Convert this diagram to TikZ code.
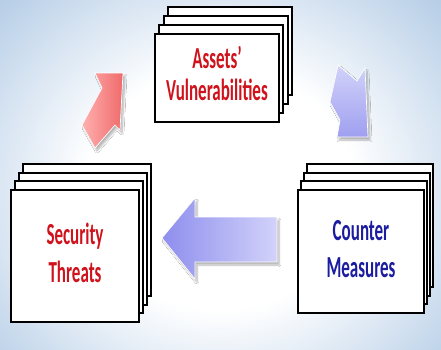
\documentclass[tikz,border=0pt]{standalone}
\usepackage{fontspec}
\setmainfont{Carlito}
\usetikzlibrary{calc,shadows.blur}
\definecolor{bgblue}{HTML}{AEC8E4}
\definecolor{tagred}{HTML}{D0121C}
\definecolor{tagblue}{HTML}{1C1CA0}
\definecolor{pinklite}{HTML}{FFB0B0}
\definecolor{pinkdeep}{HTML}{F06A6A}
\definecolor{lilaclite}{HTML}{D2D2FA}
\definecolor{lilacdeep}{HTML}{8E8EEE}
\pgfdeclareradialshading{halo}{\pgfpoint{0bp}{0bp}}{color(0bp)=(white); color(12bp)=(white); color(29bp)=(bgblue); color(50bp)=(bgblue)}
\newcommand\cardtext[1]{\scalebox{1}[1.8]{\begin{tabular}{@{}c@{}}#1\end{tabular}}}
\begin{document}
\begin{tikzpicture}
[
x=1pt, y=-1pt,
card/.style 2 args={draw, line width=2.2pt, fill=white, inner sep=0pt, minimum width=#1, minimum height=#2},
tag/.style 2 args={text=#1, font=\bfseries\fontsize{17}{#2}\selectfont},
soft/.style={draw=white, line width=0.7pt, blur shadow={shadow xshift=2pt, shadow yshift=-3pt, shadow blur steps=8, shadow opacity=30}}
]
% background
\begin{scope}
  \clip (0,0) rectangle (441,349);
  \shade[shading=halo] (-60,-60) rectangle (500,440);
\end{scope}
\useasboundingbox (0,0) rectangle (441,349);

\coordinate (assets-c) at (217,78);
\coordinate (threats-c) at (75,256);
\coordinate (measures-c) at (361,251.5);

\foreach \k in {3,2,1} {
  \node[card={124pt}{88pt}] at ($(assets-c)+(4.3*\k,-9*\k)$) {};
  \node[card={128pt}{132pt}] at ($(threats-c)+(4*\k,-8.7*\k)$) {};
  \node[card={126pt}{123pt}] at ($(measures-c)+(3*\k,-8.7*\k)$) {};
}
\node[card={124pt}{88pt}, tag={tagred}{17.8pt}] (assets) at (assets-c) {\cardtext{Assets'\\Vulnerabilities}};
\node[card={128pt}{132pt}, tag={tagred}{21pt}] (threats) at (threats-c) {\cardtext{Security\\Threats}};
\node[card={126pt}{123pt}, tag={tagblue}{21pt}] (measures) at (measures-c) {\cardtext{Counter\\Measures}};

\path[soft, left color=pinklite, right color=pinkdeep] (123,73) -- (120,130) -- (115,125) -- (95,148) -- (82,125) -- (102,88) -- (95,73) -- cycle;
\path[soft, top color=lilaclite, bottom color=lilacdeep!85] (368,137) -- (337,137) -- (340,120) -- (330,102) -- (338,65) -- (357,81) -- (365,68) -- cycle;
\path[soft, left color=lilacdeep, right color=lilaclite] (162,238) -- (195,198) -- (195,217) -- (277,217) -- (277,262) -- (195,262) -- (195,279) -- cycle;
\end{tikzpicture}
\end{document}
